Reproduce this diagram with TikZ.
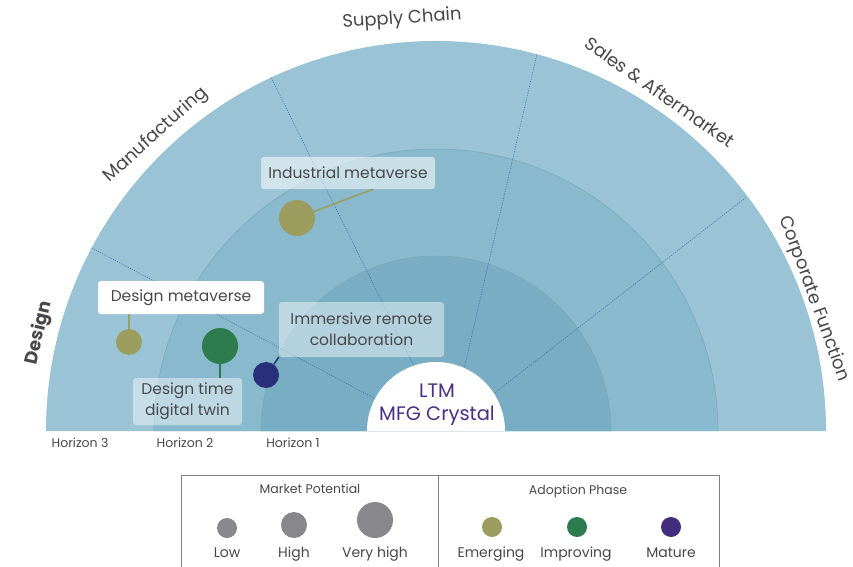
\documentclass[tikz,border=0pt]{standalone}
\usepackage{fontspec}
\setmainfont{Poppins}
\usetikzlibrary{calc, positioning}

\definecolor{ringout}{HTML}{9AC4D6}
\definecolor{ringmid}{HTML}{89B9CC}
\definecolor{ringin}{HTML}{78ADC3}
\definecolor{ringline}{HTML}{7AA6B9}
\definecolor{divblue}{HTML}{3B78AC}
\definecolor{txtgray}{HTML}{48484C}
\definecolor{emerg}{HTML}{9B9D5F}
\definecolor{improv}{HTML}{2E7B4E}
\definecolor{matur}{HTML}{432C7E}
\definecolor{navyb}{HTML}{29307B}
\definecolor{potgray}{HTML}{87878C}
\definecolor{ltmpurple}{HTML}{4A2F85}

\begin{document}
\begin{tikzpicture}[x=1pt, y=1pt]
	\tikzstyle{seglabel} = [text=txtgray, font=\fontsize{18}{20}\selectfont, inner sep=0pt]
	\tikzstyle{horlabel} = [text=txtgray, font=\fontsize{12.5}{14}\selectfont, anchor=base, inner sep=0pt]
	\tikzstyle{tag} = [rounded corners=3pt, text=txtgray, font=\fontsize{15.5}{21}\selectfont, align=center, inner sep=0pt]
	\tikzstyle{bubble} = [circle, inner sep=0pt]
	\tikzstyle{legtext} = [text=txtgray, font=\fontsize{14}{15}\selectfont, anchor=base, inner sep=0pt]
	\tikzstyle{divider} = [draw=divblue, line width=0.6pt, dash pattern=on 1.2pt off 1.2pt]

	\useasboundingbox (0,0) rectangle (853,566);

	\coordinate (O) at (436,135);

	% rings
	\fill[ringout] ($(O)+(-390,0)$) arc[start angle=180, end angle=0, radius=390] -- cycle;
	\fill[ringmid] ($(O)+(-282,0)$) arc[start angle=180, end angle=0, radius=282] -- cycle;
	\fill[ringin] ($(O)+(-175,0)$) arc[start angle=180, end angle=0, radius=175] -- cycle;
	\draw[ringline, line width=0.5pt] ($(O)+(-282,0)$) arc[start angle=180, end angle=0, radius=282];
	\draw[ringline, line width=0.5pt] ($(O)+(-175,0)$) arc[start angle=180, end angle=0, radius=175];

	% dividers
	\draw[divider] ($(O)+(152:390)$) -- ($(O)+(152:68)$);
	\draw[divider] ($(O)+(115:390)$) -- ($(O)+(109:70)$);
	\draw[divider] ($(O)+(75:389)$) -- ($(O)+(66:70)$);
	\draw[divider] ($(O)+(37:388)$) -- ($(O)+(33:70)$);

	\fill[white] ($(O)+(-69,0)$) arc[start angle=180, end angle=0, radius=69] -- cycle;
	\node[text=ltmpurple, font=\fontsize{19.5}{23}\selectfont, align=center, inner sep=0pt] at (437,161) (ltm) {LTM\\MFG Crystal};

	% segments
	\node[seglabel, rotate=4]	at (402,547)	(supply)	{Supply Chain};
	\node[seglabel, rotate=42]	at (156,431)	(manu)		{Manufacturing};
	\node[seglabel, rotate=-35]	at (660,474)	(sales)		{Sales \& Aftermarket};
	\node[seglabel, rotate=-70]	at (814,267)	(corp)		{Corporate Function};
	\node[seglabel, rotate=77, font=\fontsize{18}{20}\selectfont\bfseries]	at (39,233)	(design)	{Design};

	\node[horlabel]	at (80,119)		(hor3)	{Horizon 3};
	\node[horlabel]	at (185,119)	(hor2)	{Horizon 2};
	\node[horlabel]	at (293,119)	(hor1)	{Horizon 1};

	% labels
	\node[tag, fill=white, fill opacity=0.55, text opacity=1, minimum width=174, minimum height=32]	at (348,393)	(indlab)	{Industrial metaverse};
	\node[tag, fill=white, minimum width=166, minimum height=33]	at (181,268.5)	(dmlab)	{Design metaverse};
	\node[tag, fill=white, fill opacity=0.45, text opacity=1, minimum width=109, minimum height=47]	at (187.5,164.5)	(dtlab)	{Design time\\digital twin};
	\node[tag, fill=white, fill opacity=0.45, text opacity=1, minimum width=165, minimum height=55]	at (361.5,236.5)	(imlab)	{Immersive remote\\collaboration};

	\node[bubble, fill=emerg, minimum size=36]	at (297,348)	(indb)	{};
	\node[bubble, fill=emerg, minimum size=26]	at (129,224)	(dmb)	{};
	\node[bubble, fill=improv, minimum size=36]	at (220,220)	(dtb)	{};
	\node[bubble, fill=navyb, minimum size=26]	at (266,191)	(imb)	{};

	\path[-, line width=1.5pt]
	(indb)	edge[emerg]		([xshift=25pt]indlab.south)
	(dmb)	edge[emerg]		(dmb |- dmlab.south)
	(dtb)	edge[improv]	(dtb |- dtlab.north)
	(imb)	edge[navyb]		(imlab.south west);

	% legend
	\draw[gray, line width=0.6pt] (181,-5) -- (181,91) -- (719,91) -- (719,-5);
	\draw[gray, line width=0.6pt] (438,91) -- (438,-5);

	\node[legtext, font=\fontsize{12.5}{14}\selectfont]	at (310,73)	(mp)	{Market Potential};
	\node[legtext, font=\fontsize{12.5}{14}\selectfont]	at (578,72)	(ap)	{Adoption Phase};

	\node[bubble, fill=potgray, minimum size=20]	at (227,38)	(low)	{};
	\node[bubble, fill=potgray, minimum size=26]	at (294,41)	(high)	{};
	\node[bubble, fill=potgray, minimum size=36]	at (375,46)	(vhigh)	{};
	\node[bubble, fill=emerg, minimum size=20]	at (492,39)	(emg)	{};
	\node[bubble, fill=improv, minimum size=20]	at (577,39)	(imp)	{};
	\node[bubble, fill=matur, minimum size=20]	at (671,39)	(mat)	{};

	\node[legtext]	at (227,9)	(lowt)	{Low};
	\node[legtext]	at (294,9)	(hight)	{High};
	\node[legtext]	at (375,9)	(vhight)	{Very high};
	\node[legtext]	at (491,9)	(emgt)	{Emerging};
	\node[legtext]	at (576,9)	(impt)	{Improving};
	\node[legtext]	at (671,9)	(matt)	{Mature};
\end{tikzpicture}
\end{document}
